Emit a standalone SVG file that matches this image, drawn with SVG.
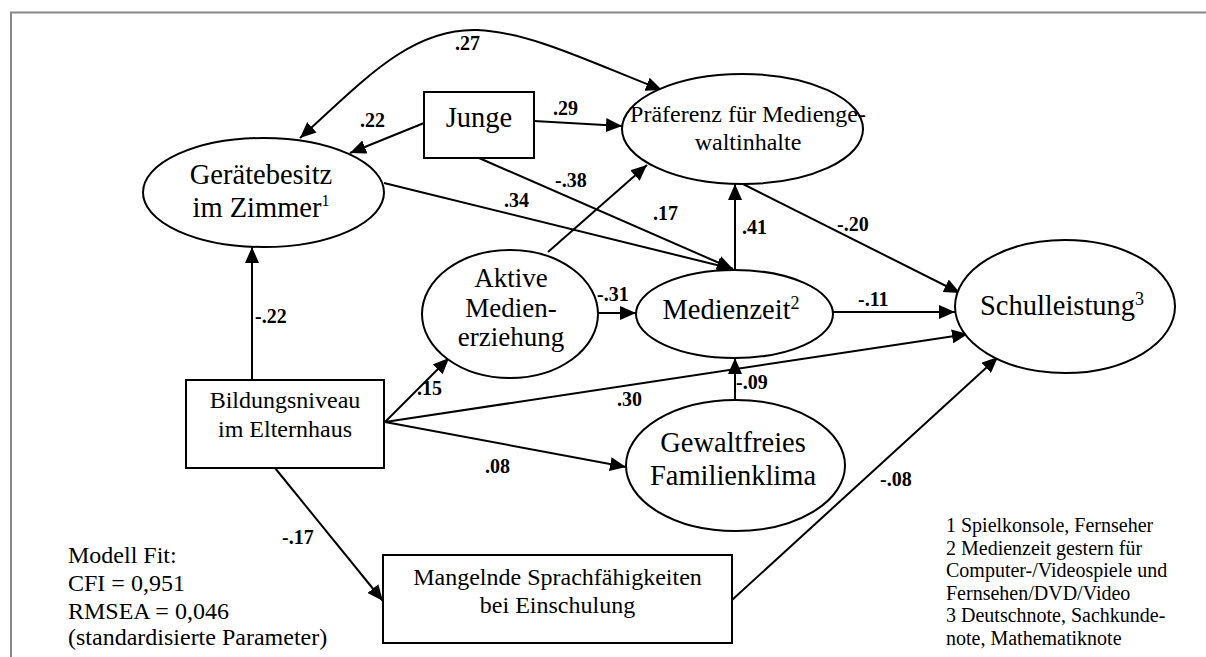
<svg xmlns="http://www.w3.org/2000/svg" width="1206" height="657" viewBox="0 0 1206 657">
<defs>
<marker id="ah" markerUnits="userSpaceOnUse" markerWidth="16" markerHeight="14" refX="16" refY="7" orient="auto-start-reverse">
<path d="M0,0 L16,7 L0,14 Z" fill="#000"/>
</marker>
<style>
.n{fill:#fff;stroke:#000;stroke-width:2}
.t{font-family:"Liberation Serif","Times New Roman",serif;fill:#000}
.big{font-size:28.5px}
.mid{font-size:27px}
.sm{font-size:24px}
.fn{font-size:20px}
.lb{font-family:"Liberation Serif","Times New Roman",serif;font-size:20px;font-weight:bold;fill:#000}
.e{fill:none;stroke:#000;stroke-width:2;marker-end:url(#ah)}
</style>
</defs>
<rect width="1206" height="657" fill="#fff"/>
<path d="M11,657 V12.5 H1206" fill="none" stroke="#888" stroke-width="2"/>

<g id="connectors">
<path class="e" d="M300,138 C362,82 410,28 477,30 C530,32 590,62 662,90" style="marker-start:url(#ah)"/>
<line class="e" x1="424" y1="123" x2="350" y2="153"/>
<line class="e" x1="534" y1="121" x2="622" y2="126"/>
<line class="e" x1="479" y1="158" x2="733" y2="269"/>
<line class="e" x1="384" y1="183" x2="733" y2="269"/>
<line class="e" x1="548" y1="252" x2="647" y2="165"/>
<line class="e" x1="735" y1="270" x2="735" y2="184"/>
<line class="e" x1="743" y1="184" x2="960" y2="293"/>
<line class="e" x1="252" y1="380" x2="252" y2="247"/>
<line class="e" x1="598" y1="313" x2="636" y2="313"/>
<line class="e" x1="833" y1="312" x2="955" y2="312"/>
<line class="e" x1="385" y1="422" x2="449" y2="358"/>
<line class="e" x1="385" y1="422" x2="968" y2="334"/>
<line class="e" x1="385" y1="422" x2="626" y2="467"/>
<line class="e" x1="735" y1="400" x2="735" y2="358"/>
<line class="e" x1="275" y1="468" x2="383" y2="601"/>
<line class="e" x1="732" y1="600" x2="998" y2="357"/>
</g>

<g id="labels">
<text class="lb" x="455" y="50">.27</text>
<text class="lb" x="360" y="127">.22</text>
<text class="lb" x="553" y="115">.29</text>
<text class="lb" x="555" y="187">-.38</text>
<text class="lb" x="504" y="207">.34</text>
<text class="lb" x="653" y="220">.17</text>
<text class="lb" x="742" y="234">.41</text>
<text class="lb" x="837" y="231">-.20</text>
<text class="lb" x="255" y="323">-.22</text>
<text class="lb" x="597" y="301">-.31</text>
<text class="lb" x="858" y="306">-.11</text>
<text class="lb" x="417" y="395">.15</text>
<text class="lb" x="617" y="406">.30</text>
<text class="lb" x="736" y="389">-.09</text>
<text class="lb" x="485" y="473">.08</text>
<text class="lb" x="880" y="486">-.08</text>
<text class="lb" x="282" y="544">-.17</text>
</g>

<g id="geraetebesitz">
<ellipse class="n" cx="263.5" cy="192.5" rx="120.5" ry="54.5"/>
<text class="t big" x="261" y="184" text-anchor="middle">Gerätebesitz</text>
<text class="t big" x="261" y="217" text-anchor="middle">im Zimmer<tspan font-size="16" dy="-11">1</tspan></text>
</g>

<g id="junge">
<rect class="n" x="424" y="92" width="110" height="66"/>
<text class="t big" x="479" y="127" text-anchor="middle">Junge</text>
</g>

<g id="praeferenz">
<ellipse class="n" cx="742.5" cy="129" rx="120.5" ry="55"/>
<text class="t sm" x="748" y="122" text-anchor="middle">Präferenz für Medienge-</text>
<text class="t sm" x="748" y="150" text-anchor="middle">waltinhalte</text>
</g>

<g id="aktive">
<ellipse class="n" cx="510" cy="314" rx="88" ry="64"/>
<text class="t mid" x="511" y="287" text-anchor="middle">Aktive</text>
<text class="t mid" x="511" y="317" text-anchor="middle">Medien-</text>
<text class="t mid" x="511" y="346" text-anchor="middle">erziehung</text>
</g>

<g id="medienzeit">
<ellipse class="n" cx="734.5" cy="314" rx="98.5" ry="44"/>
<text class="t big" x="731" y="319" text-anchor="middle">Medienzeit<tspan font-size="18" dy="-10">2</tspan></text>
</g>

<g id="schulleistung">
<ellipse class="n" cx="1065" cy="306.5" rx="110" ry="66.5"/>
<text class="t big" x="1062" y="315" text-anchor="middle">Schulleistung<tspan font-size="18" dy="-10">3</tspan></text>
</g>

<g id="bildungsniveau">
<rect class="n" x="186" y="380" width="198" height="88"/>
<text class="t sm" x="285" y="408" text-anchor="middle">Bildungsniveau</text>
<text class="t sm" x="285" y="437" text-anchor="middle">im Elternhaus</text>
</g>

<g id="gewaltfreies">
<ellipse class="n" cx="735.5" cy="465.5" rx="109.5" ry="65.5"/>
<text class="t big" x="733" y="452" text-anchor="middle">Gewaltfreies</text>
<text class="t big" x="733" y="485" text-anchor="middle">Familienklima</text>
</g>

<g id="mangelnde">
<rect class="n" x="383" y="555" width="349" height="88"/>
<text class="t sm" x="557.5" y="585" text-anchor="middle">Mangelnde Sprachfähigkeiten</text>
<text class="t sm" x="557.5" y="613" text-anchor="middle">bei Einschulung</text>
</g>

<g id="modellfit">
<text class="t sm" x="68" y="563">Modell Fit:</text>
<text class="t sm" x="68" y="591">CFI = 0,951</text>
<text class="t sm" x="68" y="619">RMSEA = 0,046</text>
<text class="t sm" x="68" y="645">(standardisierte Parameter)</text>
</g>

<g id="footnotes">
<text class="t fn" x="946" y="532">1 Spielkonsole, Fernseher</text>
<text class="t fn" x="946" y="555">2 Medienzeit gestern für</text>
<text class="t fn" x="946" y="577">Computer-/Videospiele und</text>
<text class="t fn" x="946" y="600">Fernsehen/DVD/Video</text>
<text class="t fn" x="946" y="622">3 Deutschnote, Sachkunde-</text>
<text class="t fn" x="946" y="645">note, Mathematiknote</text>
</g>
</svg>
